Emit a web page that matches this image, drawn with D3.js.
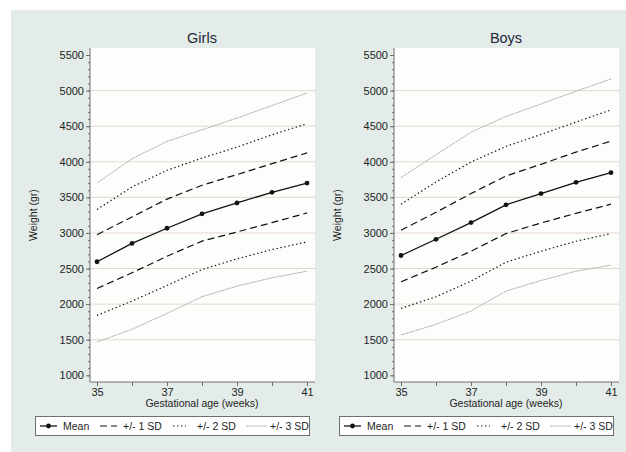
<!DOCTYPE html>
<html>
<head>
<meta charset="utf-8">
<script src="https://cdn.jsdelivr.net/npm/d3@7"></script>
<style>
  body { margin: 0; background: #fff; }
  svg { display: block; font-family: "Liberation Sans", Arial, sans-serif; }
  .axis path, .axis line { stroke: #6f6f6f; }
  .axis text { fill: #1e1e1e; font-size: 11px; }
</style>
</head>
<body>
<div class="chart"></div>
<script>
// gestational age (weeks)
const weeks = [35, 36, 37, 38, 39, 40, 41];
const yTicks = [1000, 1500, 2000, 2500, 3000, 3500, 4000, 4500, 5000, 5500];
const xLabels = [35, 37, 39, 41];

// girls, weight in grams
const girlsMean = [2595, 2853, 3066, 3268, 3421, 3571, 3700];
const girlsP1 = [2975, 3225, 3475, 3670, 3820, 3973, 4124];
const girlsM1 = [2220, 2440, 2673, 2885, 3014, 3145, 3281];
const girlsP2 = [3330, 3646, 3880, 4052, 4206, 4379, 4535];
const girlsM2 = [1842, 2043, 2262, 2486, 2636, 2767, 2874];
const girlsP3 = [3702, 4043, 4286, 4449, 4613, 4790, 4965];
const girlsM3 = [1469, 1646, 1870, 2104, 2253, 2370, 2463];

// boys
const boysMean = [2683, 2911, 3145, 3395, 3553, 3711, 3847];
const boysP1 = [3038, 3290, 3553, 3800, 3964, 4136, 4290];
const boysM1 = [2314, 2519, 2743, 2991, 3140, 3276, 3405];
const boysP2 = [3403, 3716, 3996, 4216, 4384, 4557, 4729];
const boysM2 = [1940, 2104, 2323, 2589, 2743, 2883, 2991];
const boysP3 = [3777, 4099, 4416, 4636, 4813, 4991, 5163];
const boysM3 = [1567, 1716, 1903, 2183, 2332, 2463, 2547];

const legendItems = ["Mean", "+/- 1 SD", "+/- 2 SD", "+/- 3 SD"];

const styles = {
  mean: { stroke: "#111", width: 1.3, dash: null },
  sd1: { stroke: "#111", width: 1.2, dash: "7,4" },
  sd2: { stroke: "#111", width: 1.2, dash: "1.4,2.6" },
  sd3: { stroke: "#a3a3a3", width: 0.9, dash: "2,0.6" }
};

const panels = [
  { title: "Girls", dx: 0, series: [
    ["sd3", girlsP3], ["sd3", girlsM3], ["sd2", girlsP2], ["sd2", girlsM2],
    ["sd1", girlsP1], ["sd1", girlsM1], ["mean", girlsMean]] },
  { title: "Boys", dx: 304, series: [
    ["sd3", boysP3], ["sd3", boysM3], ["sd2", boysP2], ["sd2", boysM2],
    ["sd1", boysP1], ["sd1", boysM1], ["mean", boysMean]] }
];

const svg = d3.select("div.chart").append("svg")
    .attr("width", 626)
    .attr("height", 452);

svg.append("rect")
    .attr("x", 11).attr("y", 10)
    .attr("width", 615).attr("height", 442)
    .style("fill", "#e3ece8");

const x = d3.scaleLinear().domain([35, 41]).range([97, 307]);
const y = d3.scaleLinear().domain([1000, 5500]).range([375.3, 55]);

const line = d3.line()
    .x((d, i) => x(weeks[i]))
    .y(d => y(d));

panels.forEach(p => {
  const g = svg.append("g").attr("transform", `translate(${p.dx},0)`);

  g.append("rect")
      .attr("x", 90).attr("y", 48)
      .attr("width", 225).attr("height", 334)
      .style("fill", "#fdfdfc");

  g.selectAll("line.grid")
      .data(yTicks.filter(t => t > 1000 && t < 5500))
      .enter().append("line")
      .attr("class", "grid")
      .attr("x1", 90).attr("x2", 315)
      .attr("y1", d => y(d)).attr("y2", d => y(d))
      .style("stroke", "#e6d6d0")
      .style("stroke-width", 1);

  // minor y ticks every 100
  g.append("g")
      .attr("class", "axis")
      .attr("transform", "translate(90,0)")
      .call(d3.axisLeft(y).tickValues(d3.range(1000, 5501, 100)).tickSize(2).tickFormat(""))
      .call(a => a.select(".domain").remove());

  g.append("g")
      .attr("class", "axis")
      .attr("transform", "translate(90,0)")
      .call(d3.axisLeft(y).tickValues(yTicks).tickSize(4).tickPadding(2).tickFormat(d3.format("d")))
      .call(a => a.select(".domain").attr("d", "M0,48V382"));

  g.append("g")
      .attr("class", "axis")
      .attr("transform", "translate(0,382)")
      .call(d3.axisBottom(x).tickValues(weeks).tickSize(4).tickPadding(2)
        .tickFormat(d => xLabels.includes(d) ? d : ""))
      .call(a => a.select(".domain").attr("d", "M90,0H315"));

  g.append("text")
      .attr("x", 202).attr("y", 43)
      .attr("text-anchor", "middle")
      .style("font-size", "14.5px")
      .style("fill", "#1c2838")
      .text(p.title);

  g.append("text")
      .attr("x", 202).attr("y", 407)
      .attr("text-anchor", "middle")
      .style("font-size", "10.5px")
      .style("fill", "#1e1e1e")
      .text("Gestational age (weeks)");

  g.append("text")
      .attr("transform", "translate(37,215) rotate(-90)")
      .attr("text-anchor", "middle")
      .style("font-size", "10.5px")
      .style("fill", "#1e1e1e")
      .text("Weight (gr)");

  p.series.forEach(([key, values]) => {
    const s = styles[key];
    g.append("path")
        .attr("d", line(values))
        .style("fill", "none")
        .style("stroke", s.stroke)
        .style("stroke-width", s.width)
        .style("stroke-dasharray", s.dash);
  });

  g.selectAll("circle.mean")
      .data(p.series.find(s => s[0] === "mean")[1])
      .enter().append("circle")
      .attr("class", "mean")
      .attr("cx", (d, i) => x(weeks[i]))
      .attr("cy", d => y(d))
      .attr("r", 2.4)
      .style("fill", "#111");

  // legend
  const lg = g.append("g");
  lg.append("rect")
      .attr("x", 35.5).attr("y", 416.5)
      .attr("width", 274).attr("height", 19)
      .style("fill", "#fff")
      .style("stroke", "#6f6f6f")
      .style("stroke-width", 1);
  const keys = ["mean", "sd1", "sd2", "sd3"];
  const sampleX = [[40, 57], [100, 117], [173, 186], [246, 267]];
  const textX = [63, 123, 197, 270];
  keys.forEach((k, i) => {
    const s = styles[k];
    lg.append("line")
        .attr("x1", sampleX[i][0]).attr("x2", sampleX[i][1])
        .attr("y1", 426).attr("y2", 426)
        .style("stroke", s.stroke)
        .style("stroke-width", s.width)
        .style("stroke-dasharray", s.dash);
    if (k === "mean") {
      lg.append("circle").attr("cx", 48.5).attr("cy", 426).attr("r", 2.4).style("fill", "#111");
    }
    lg.append("text")
        .attr("x", textX[i]).attr("y", 430)
        .style("font-size", "10.5px")
        .style("fill", "#1e1e1e")
        .text(legendItems[i]);
  });
});
</script>
</body>
</html>
